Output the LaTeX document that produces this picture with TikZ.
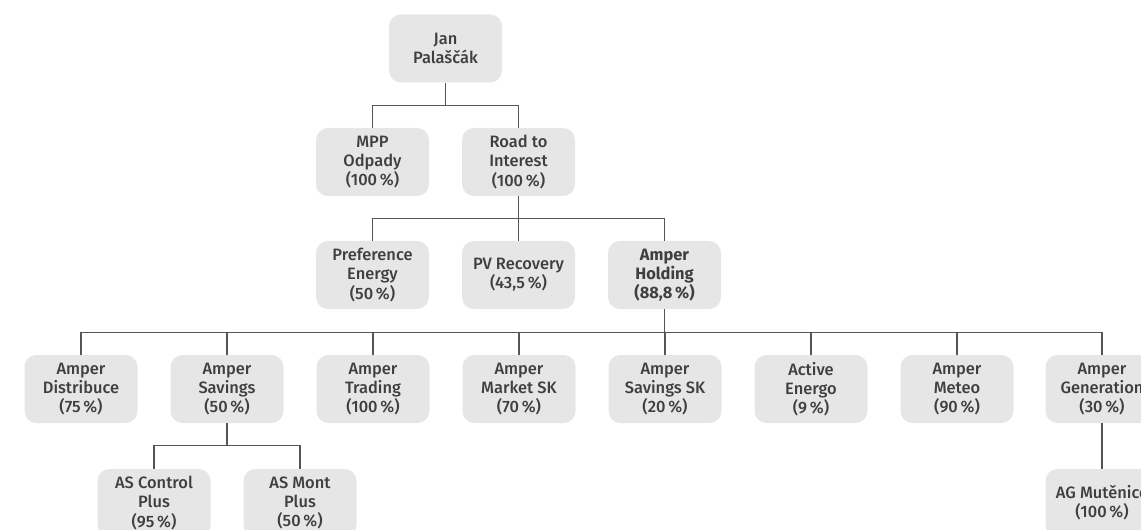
\documentclass[tikz,border=0pt]{standalone}
\usepackage{fontspec}
\setmainfont{Fira Sans}[UprightFont = {* Medium}, BoldFont = {* Bold}]
\usepackage{tikz}

\definecolor{boxgrey}{HTML}{E6E6E6}
\definecolor{textgrey}{HTML}{3F3F3F}
\definecolor{linegrey}{HTML}{555555}

\begin{document}
\begin{tikzpicture}[x=0.025cm, y=-0.025cm]
			\tikzset{firm/.style={shape = rectangle, rounded corners = 8.5pt, fill = boxgrey, text = textgrey,
					minimum width = 113*0.025cm, minimum height = 68*0.025cm, inner sep = 0pt,
					align = center, font = \fontsize{11.7}{13.6}\selectfont}}
			\tikzset{link/.style={draw = linegrey, line width = 1pt}}
			\clip (0, 0) rectangle (1141, 530);
			\useasboundingbox (0, 0) rectangle (1141, 530);
			%owner
			\node[firm] (jan) at (445.5, 48.5) {Jan\\Palaščák};
			%second row
			\node[firm] (mpp) at (372.5, 162) {MPP\\Odpady\\(100\,\%)};
			\node[firm] (road) at (518.5, 162) {Road to\\Interest\\(100\,\%)};
			%third row
			\node[firm] (pref) at (372.5, 275) {Preference\\Energy\\(50\,\%)};
			\node[firm] (pv) at (518.5, 275) {PV Recovery\\(43,5\,\%)};
			\node[firm, font = \fontsize{11.7}{13.6}\selectfont\bfseries] (holding) at (664.5, 275) {Amper\\Holding\\(88,8\,\%)};
			%fourth row
			\node[firm] (distr) at (81, 389) {Amper\\Distribuce\\(75\,\%)};
			\node[firm] (savings) at (227, 389) {Amper\\Savings\\(50\,\%)};
			\node[firm] (trading) at (373, 389) {Amper\\Trading\\(100\,\%)};
			\node[firm] (market) at (519, 389) {Amper\\Market SK\\(70\,\%)};
			\node[firm] (savsk) at (665, 389) {Amper\\Savings SK\\(20\,\%)};
			\node[firm] (active) at (811, 389) {Active\\Energo\\(9\,\%)};
			\node[firm] (meteo) at (957, 389) {Amper\\Meteo\\(90\,\%)};
			\node[firm] (gen) at (1102, 389) {Amper\\Generation\\(30\,\%)};
			%fifth row
			\node[firm] (control) at (154, 503) {AS Control\\Plus\\(95\,\%)};
			\node[firm] (mont) at (300, 503) {AS Mont\\Plus\\(50\,\%)};
			\node[firm] (mut) at (1102, 503) {AG Mutěnice\\(100\,\%)};
			%edges
			\foreach \child in {mpp, road}
				\draw[link] (jan.south) -- ++(0, 23) -| (\child.north);
			\foreach \child in {pref, pv, holding}
				\draw[link] (road.south) -- ++(0, 22.5) -| (\child.north);
			\foreach \child in {distr, savings, trading, market, savsk, active, meteo, gen}
				\draw[link] (holding.south) -- ++(0, 23) -| (\child.north);
			\foreach \child in {control, mont}
				\draw[link] (savings.south) -- ++(0, 22.5) -| (\child.north);
			\draw[link] (gen.south) -- (mut.north);
		\end{tikzpicture}
\end{document}
